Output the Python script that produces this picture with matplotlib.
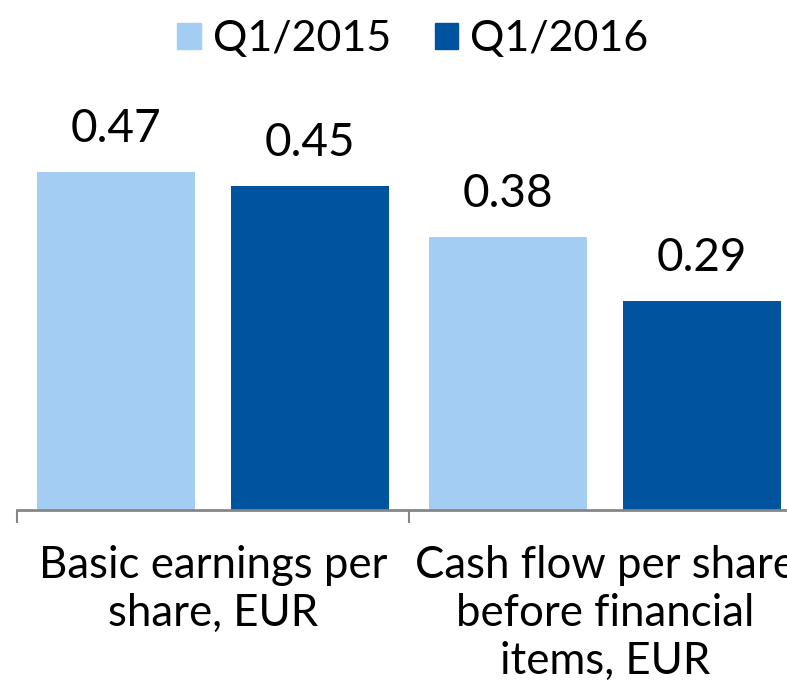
import matplotlib
matplotlib.use("Agg")
import matplotlib.pyplot as plt
from matplotlib.patches import Patch
import numpy as np

categories = ["Basic earnings per\nshare, EUR", "Cash flow per share\nbefore financial\nitems, EUR"]
series_names = ["Q1/2015", "Q1/2016"]
q1_2015 = [0.47, 0.38]
q1_2016 = [0.45, 0.29]
value_labels_2015 = ["0.47", "0.38"]
value_labels_2016 = ["0.45", "0.29"]

light = "#a3cdf2"
dark = "#00539e"
FONT = "Lato"
plt.rcParams["font.family"] = [FONT, "DejaVu Sans"]

W, H = 787, 681
fig = plt.figure(figsize=(W/100, H/100), dpi=100)
left = 17 / W
width = 784 / W
bottom = (H - 510) / H
ymax = 0.5
height = ymax * 719 / H
ax = fig.add_axes([left, bottom, width, height])
ax.set_xlim(-0.5, 1.5)
ax.set_ylim(0, ymax)

x = np.arange(len(categories))
bw = 158 / 392
off = 97 / 392
b1 = ax.bar(x - off, q1_2015, width=bw, color=light, zorder=2)
b2 = ax.bar(x + off, q1_2016, width=bw, color=dark, zorder=2)

fs = 31.5
for bars, labs in ((b1, value_labels_2015), (b2, value_labels_2016)):
    for r, lab in zip(bars, labs):
        ax.annotate(lab, (r.get_x() + r.get_width()/2, r.get_height()),
                    xytext=(0, 16), textcoords="offset points",
                    ha="center", va="bottom", fontsize=33, color="black")

for s in ("top", "right", "left"):
    ax.spines[s].set_visible(False)
ax.spines["bottom"].set_color("#868686")
ax.spines["bottom"].set_linewidth(2)
ax.set_yticks([])
ax.set_xticks([-0.5, 0.5, 1.5])
ax.set_xticklabels([])
ax.tick_params(axis="x", direction="out", length=9, width=1.5, color="#868686")
ax.set_xticks(x, minor=True)
ax.set_xticklabels(categories, minor=True, fontsize=fs, linespacing=1.22)
ax.tick_params(axis="x", which="minor", length=0, pad=25)

handles = [Patch(color=light), Patch(color=dark)]
fig.legend(handles, series_names, loc="upper center", bbox_to_anchor=(413/W, 1.002),
           ncol=2, frameon=False, fontsize=31, handlelength=0.55, handleheight=0.55,
           handletextpad=0.28, columnspacing=1.0, borderaxespad=0.1)

fig.savefig("out.png", dpi=100)
